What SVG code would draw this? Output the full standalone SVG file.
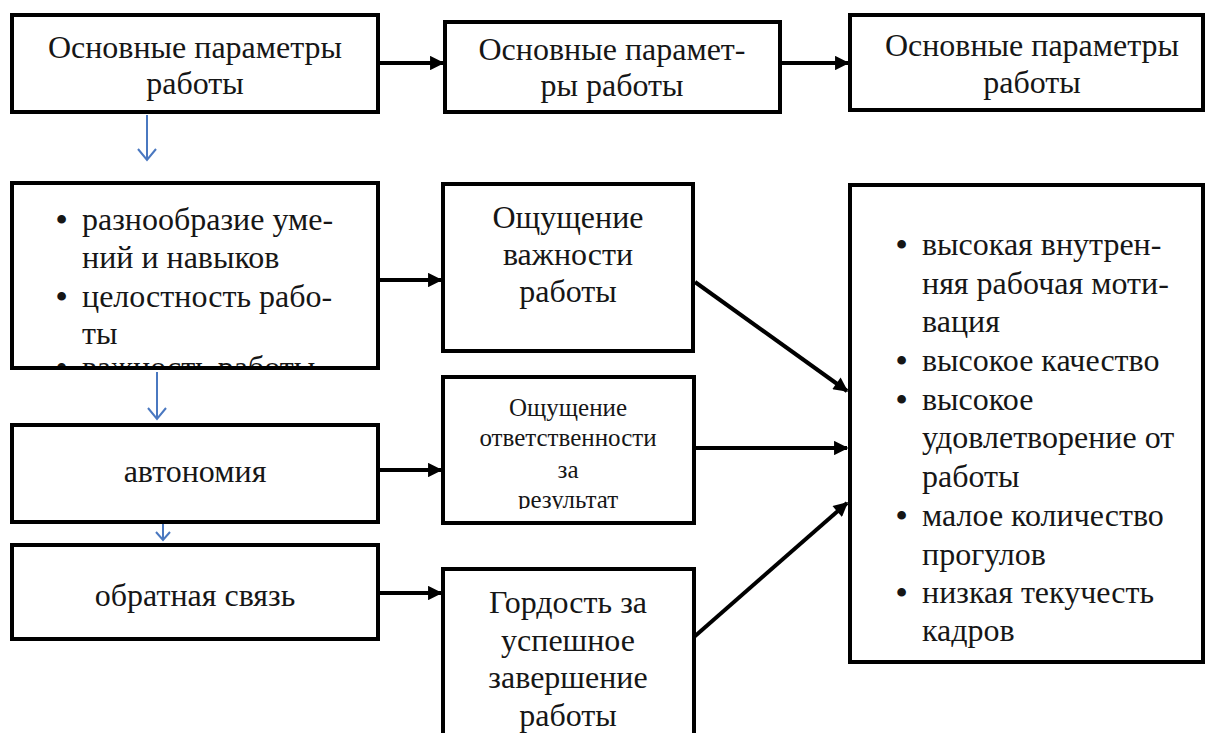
<svg xmlns="http://www.w3.org/2000/svg" width="1205" height="733" viewBox="0 0 1205 733">
<style>
.box{fill:#fff;stroke:#000;stroke-width:4}
.t{font-family:"Liberation Serif","Times New Roman",serif;font-size:32px;fill:#161616}
.s{font-family:"Liberation Serif","Times New Roman",serif;font-size:25px;fill:#161616}
.b{font-family:"Liberation Serif","Times New Roman",serif;font-size:32px;font-weight:bold;fill:#161616}
.c{text-anchor:middle}
.con{stroke:#000;stroke-width:4;fill:none}
.blue{stroke:#4a78c0;stroke-width:2;fill:none}
</style>
<defs>
<marker id="ah" viewBox="0 0 10 10" refX="9" refY="5" markerWidth="4" markerHeight="3.6" orient="auto" markerUnits="strokeWidth">
<path d="M0,0 L10,5 L0,10 z" fill="#000"/>
</marker>
<clipPath id="clipD"><rect x="14" y="185" width="362" height="181"/></clipPath>
<clipPath id="clipH"><rect x="445" y="379" width="247" height="130"/></clipPath>
</defs>
<rect width="1205" height="733" fill="#fff"/>

<g id="connectors">
<line class="con" x1="378" y1="63" x2="443" y2="63" marker-end="url(#ah)"/>
<line class="con" x1="780" y1="63" x2="848" y2="63" marker-end="url(#ah)"/>
<line class="con" x1="378" y1="280" x2="441" y2="280" marker-end="url(#ah)"/>
<line class="con" x1="378" y1="470" x2="441" y2="470" marker-end="url(#ah)"/>
<line class="con" x1="378" y1="593" x2="441" y2="593" marker-end="url(#ah)"/>
<line class="con" x1="695" y1="282" x2="847" y2="391" marker-end="url(#ah)"/>
<line class="con" x1="694" y1="448" x2="847" y2="448" marker-end="url(#ah)"/>
<line class="con" x1="694" y1="637" x2="847" y2="503" marker-end="url(#ah)"/>
<path class="blue" d="M147,115 V160 M138,149 L147,160 L156,149"/>
<path class="blue" d="M157,372 V419 M148,408 L157,419 L166,408"/>
<path class="blue" d="M163,522 V540 M156,532 L163,540 L170,532"/>
</g>

<g id="nodeA">
<rect class="box" x="12" y="15" width="366" height="97"/>
<text class="t c" x="195" y="58">Основные параметры</text>
<text class="t c" x="195" y="94">работы</text>
</g>
<g id="nodeB">
<rect class="box" x="445" y="22" width="335" height="90"/>
<text class="t c" x="612" y="60">Основные парамет-</text>
<text class="t c" x="612" y="96">ры работы</text>
</g>
<g id="nodeC">
<rect class="box" x="850" y="15" width="353" height="95"/>
<text class="t c" x="1032" y="56">Основные параметры</text>
<text class="t c" x="1032" y="93">работы</text>
</g>

<g id="nodeD">
<rect class="box" x="12" y="183" width="366" height="185"/>
<g clip-path="url(#clipD)">
<text class="b" x="56" y="230">•</text><text class="t" x="82" y="230">разнообразие уме-</text>
<text class="t" x="82" y="268">ний и навыков</text>
<text class="b" x="56" y="307">•</text><text class="t" x="82" y="307">целостность рабо-</text>
<text class="t" x="82" y="344">ты</text>
<text class="b" x="56" y="378">•</text><text class="t" x="82" y="378">важность работы</text>
</g>
</g>
<g id="nodeE">
<rect class="box" x="12" y="425" width="366" height="97"/>
<text class="t c" x="195" y="482">автономия</text>
</g>
<g id="nodeF">
<rect class="box" x="12" y="545" width="366" height="94"/>
<text class="t c" x="195" y="606">обратная связь</text>
</g>

<g id="nodeG">
<rect class="box" x="443" y="184" width="250" height="167"/>
<text class="t c" x="568" y="228">Ощущение</text>
<text class="t c" x="568" y="265">важности</text>
<text class="t c" x="568" y="302">работы</text>
</g>
<g id="nodeH">
<rect class="box" x="443" y="377" width="251" height="146"/>
<g clip-path="url(#clipH)">
<text class="s c" x="568" y="416">Ощущение</text>
<text class="s c" x="568" y="446">ответственности</text>
<text class="s c" x="568" y="478">за</text>
<text class="s c" x="568" y="508">результат</text>
</g>
</g>
<g id="nodeI">
<rect class="box" x="443" y="569" width="251" height="170"/>
<text class="t c" x="568" y="613">Гордость за</text>
<text class="t c" x="568" y="651">успешное</text>
<text class="t c" x="568" y="688">завершение</text>
<text class="t c" x="568" y="726">работы</text>
</g>

<g id="nodeJ">
<rect class="box" x="850" y="185" width="353" height="477"/>
<text class="b" x="896" y="255">•</text><text class="t" x="922" y="255">высокая внутрен-</text>
<text class="t" x="922" y="294">няя рабочая моти-</text>
<text class="t" x="922" y="332">вация</text>
<text class="b" x="896" y="371">•</text><text class="t" x="922" y="371">высокое качество</text>
<text class="b" x="896" y="410">•</text><text class="t" x="922" y="410">высокое</text>
<text class="t" x="922" y="448">удовлетворение от</text>
<text class="t" x="922" y="487">работы</text>
<text class="b" x="896" y="526">•</text><text class="t" x="922" y="526">малое количество</text>
<text class="t" x="922" y="565">прогулов</text>
<text class="b" x="896" y="603">•</text><text class="t" x="922" y="603">низкая текучесть</text>
<text class="t" x="922" y="641">кадров</text>
</g>
</svg>
